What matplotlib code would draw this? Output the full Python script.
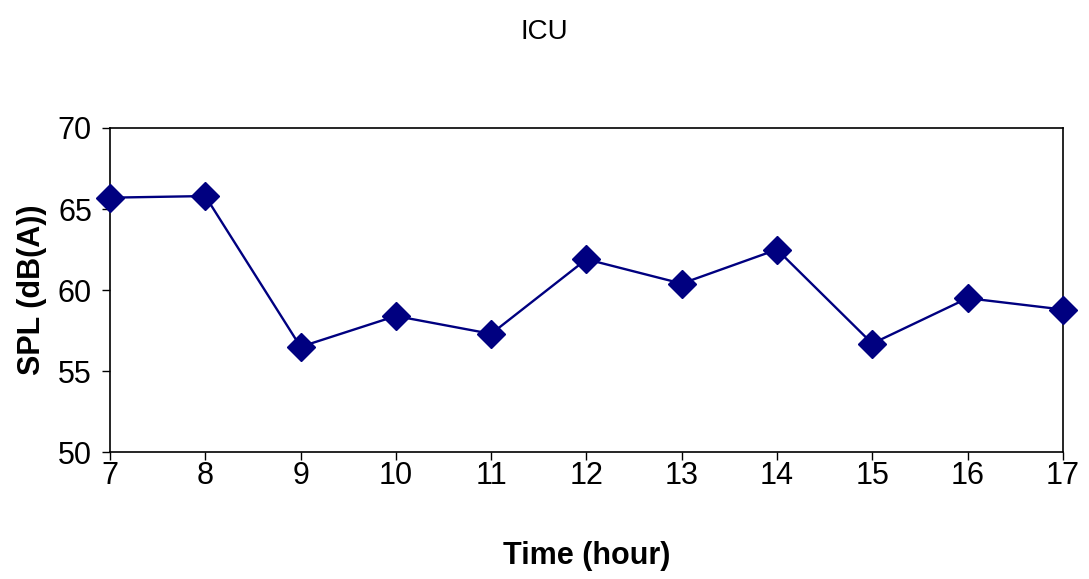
import matplotlib
matplotlib.use("Agg")
import matplotlib.pyplot as plt

plt.rcParams['font.family'] = ['Liberation Sans Narrow', 'Liberation Sans', 'DejaVu Sans']

hours = [7, 8, 9, 10, 11, 12, 13, 14, 15, 16, 17]
spl = [65.7, 65.8, 56.5, 58.4, 57.3, 61.9, 60.4, 62.5, 56.7, 59.5, 58.8]

fig = plt.figure(figsize=(10.89, 5.79), dpi=100)
ax = fig.add_axes([0.101, 0.219, 0.875, 0.56])

ax.plot(hours, spl, color='#000080', lw=1.7, marker='D', ms=14,
        markerfacecolor='#000080', markeredgecolor='#000080', clip_on=False, zorder=3)

ax.set_xlim(7, 17)
ax.set_ylim(50, 70)
ax.set_xticks(hours)
ax.set_yticks([50, 55, 60, 65, 70])
ax.tick_params(labelsize=22, direction='out', length=6, width=1)
ax.tick_params(axis='x', pad=0)
ax.tick_params(axis='y', pad=7)
for s in ax.spines.values():
    s.set_linewidth(1.2)

ax.set_xlabel('Time (hour)', fontsize=22, fontweight='bold', labelpad=36)
ax.set_ylabel('SPL (dB(A))', fontsize=22, fontweight='bold', labelpad=8)
fig.text(0.5, 0.945, 'ICU', ha='center', va='center', fontsize=20)

fig.savefig('out.png', dpi=100)
